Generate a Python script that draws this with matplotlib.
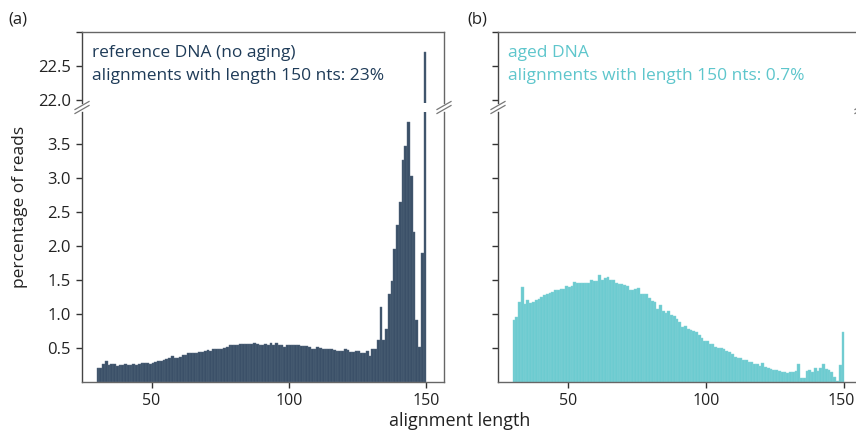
import numpy as np
import matplotlib
matplotlib.use("Agg")
import matplotlib.pyplot as plt
from matplotlib.lines import Line2D
import matplotlib.transforms as mtransforms

plt.rcParams['font.family'] = ['Open Sans', 'DejaVu Sans']

lengths = np.arange(31, 151)

reference_pct = [
    0.20, 0.21, 0.27, 0.31, 0.245, 0.27, 0.265, 0.23, 0.245, 0.255,
    0.265, 0.255, 0.25, 0.265, 0.255, 0.27, 0.28, 0.28, 0.275, 0.27,
    0.28, 0.29, 0.31, 0.315, 0.33, 0.34, 0.35, 0.38, 0.35, 0.36,
    0.37, 0.39, 0.40, 0.42, 0.42, 0.42, 0.43, 0.44, 0.445, 0.46,
    0.475, 0.455, 0.49, 0.48, 0.49, 0.49, 0.50, 0.52, 0.54, 0.55,
    0.55, 0.55, 0.56, 0.56, 0.56, 0.56, 0.56, 0.58, 0.56, 0.55,
    0.55, 0.56, 0.55, 0.57, 0.55, 0.57, 0.55, 0.55, 0.52, 0.55,
    0.54, 0.55, 0.54, 0.54, 0.53, 0.53, 0.53, 0.52, 0.49, 0.48,
    0.52, 0.50, 0.49, 0.49, 0.49, 0.49, 0.475, 0.45, 0.45, 0.45,
    0.48, 0.475, 0.44, 0.44, 0.46, 0.45, 0.43, 0.42, 0.45, 0.38,
    0.49, 0.48, 0.62, 1.11, 0.62, 0.78, 1.29, 1.49, 1.95, 2.31,
    2.64, 3.26, 3.47, 3.82, 3.03, 2.21, 0.91, 0.51, 1.89, 22.7,
]

aged_pct = [
    0.91, 0.95, 1.18, 1.39, 1.15, 1.20, 1.16, 1.18, 1.20, 1.22,
    1.25, 1.28, 1.30, 1.31, 1.32, 1.35, 1.35, 1.37, 1.37, 1.41,
    1.40, 1.41, 1.47, 1.45, 1.46, 1.46, 1.46, 1.46, 1.50, 1.48,
    1.48, 1.57, 1.50, 1.53, 1.55, 1.50, 1.50, 1.46, 1.44, 1.44,
    1.43, 1.41, 1.36, 1.35, 1.37, 1.38, 1.30, 1.30, 1.30, 1.23,
    1.19, 1.18, 1.08, 1.13, 1.05, 1.02, 1.04, 0.99, 0.97, 0.93,
    0.88, 0.81, 0.83, 0.78, 0.77, 0.75, 0.73, 0.69, 0.65, 0.61,
    0.60, 0.56, 0.56, 0.51, 0.50, 0.50, 0.48, 0.46, 0.44, 0.41,
    0.37, 0.36, 0.36, 0.33, 0.32, 0.30, 0.29, 0.27, 0.26, 0.24,
    0.28, 0.22, 0.21, 0.19, 0.18, 0.17, 0.16, 0.14, 0.15, 0.13,
    0.14, 0.14, 0.16, 0.27, 0.06, 0.06, 0.16, 0.17, 0.15, 0.20,
    0.16, 0.20, 0.27, 0.19, 0.18, 0.15, 0.08, 0.02, 0.25, 0.74,
]

low_ticks = [0.5, 1.0, 1.5, 2.0, 2.5, 3.0, 3.5]
high_ticks = [22.0, 22.5, 23.0]
x_ticks = [50, 100, 150]

panel_labels = ["(a)", "(b)"]
panel_texts = [
    "reference DNA (no aging)\nalignments with length 150 nts: 23%",
    "aged DNA\nalignments with length 150 nts: 0.7%",
]

navy = "#3b5068"
navy_edge = "#56697f"
navy_text = "#1e3b58"
teal = "#6ccbd0"
teal_edge = "#86d4d8"
teal_text = "#5ec6cc"
spine_c = "#666666"

W, H = 856, 432
fig = plt.figure(figsize=(W / 100, H / 100), dpi=100)

def fx(px):
    return px / W

def fy(py):
    return 1 - py / H

top_y0, top_y1 = 32, 103
bot_y0, bot_y1 = 112, 382
panels_x = [(82, 444), (498, 862)]
xlim = (24.7, 156.4)

series = [reference_pct, aged_pct]
colors = [(navy, navy_edge, navy_text), (teal, teal_edge, teal_text)]

for i, (x0, x1) in enumerate(panels_x):
    ax_top = fig.add_axes([fx(x0), fy(top_y1), fx(x1 - x0), (top_y1 - top_y0) / H])
    ax_bot = fig.add_axes([fx(x0), fy(bot_y1), fx(x1 - x0), (bot_y1 - bot_y0) / H])
    fc, ec, tc = colors[i]
    vals = np.array(series[i])
    for ax in (ax_top, ax_bot):
        ax.bar(lengths - 0.5, vals, width=1.0, color=fc, edgecolor=ec, linewidth=0.3)
        ax.set_xlim(*xlim)
        for s in ax.spines.values():
            s.set_color(spine_c)
            s.set_linewidth(1.0)
        ax.tick_params(axis='both', colors="#333333", labelcolor="#222222",
                       labelsize=12, length=4, width=1, direction='out', pad=4)
    ax_top.set_ylim(21.95, 23.0)
    ax_bot.set_ylim(0, 3.97)
    ax_top.spines['bottom'].set_visible(False)
    ax_bot.spines['top'].set_visible(False)
    ax_top.set_xticks([])
    ax_bot.set_xticks(x_ticks)
    ax_bot.tick_params(axis='x', labelsize=11.5)
    ax_bot.set_yticks(low_ticks)
    ax_top.set_yticks(high_ticks)
    if i == 0:
        ax_bot.set_yticklabels([f"{t:.1f}" for t in low_ticks])
        ax_top.set_yticklabels(["22.0", "22.5", ""])
    else:
        ax_bot.set_yticklabels([])
        ax_top.set_yticklabels([])
        # nudge the last x label slightly left so it stays inside the figure
        fig.canvas.draw()
        last = ax_bot.get_xticklabels()[-1]
        last.set_transform(last.get_transform() +
                           mtransforms.ScaledTranslation(-3 / 100, 0, fig.dpi_scale_trans))
    ax_top.spines['left'].set_color("#444444")
    ax_bot.spines['left'].set_color("#444444")

    ax_top.text(0.028, 0.82, panel_texts[i], transform=ax_top.transAxes,
                color=tc, fontsize=12.5, va='top', ha='left', linespacing=1.6)

    fig.text(fx(x0 - 74 if i == 0 else x0 - 31), fy(24), panel_labels[i],
             fontsize=12, color="#222222", ha='left', va='baseline')

    # break marks
    for xb in (x0, x1):
        for dy in (0, 4):
            ymid = (top_y1 + bot_y0) / 2 + dy - 2
            line = Line2D([fx(xb - 7), fx(xb + 7)], [fy(ymid + 4), fy(ymid - 4)],
                          transform=fig.transFigure, color="#777777", linewidth=0.9)
            fig.add_artist(line)

fig.text(fx(20), fy(207), "percentage of reads", rotation=90, fontsize=12.5,
         color="#222222", ha='center', va='center')
fig.text(fx(460), fy(421), "alignment length", fontsize=13,
         color="#222222", ha='center', va='center')

fig.savefig("out.png", dpi=100)
